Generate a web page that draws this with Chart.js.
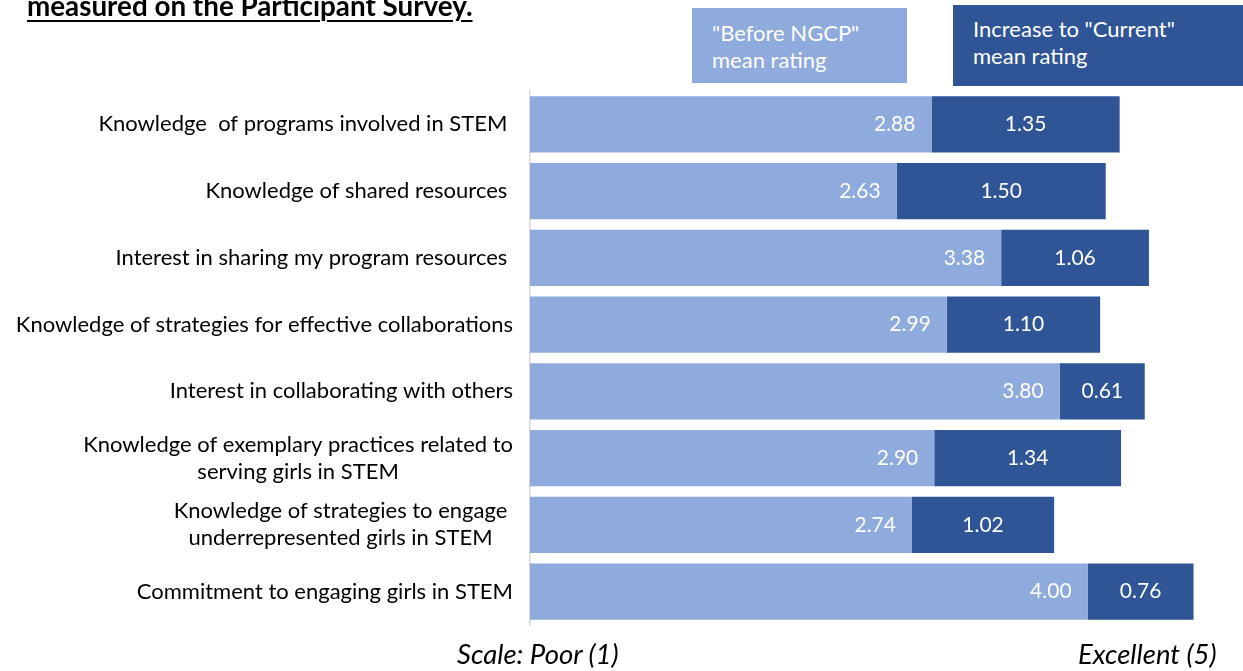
<!DOCTYPE html>
<html>
<head>
<meta charset="utf-8">
<script src="https://cdn.jsdelivr.net/npm/chart.js@4.4.1/dist/chart.umd.min.js"></script>
<style>
  html, body { margin: 0; padding: 0; background: #fff; }
  #wrap { position: relative; width: 1243px; height: 671px; overflow: hidden; font-family: Lato, "Open Sans", sans-serif; }
  canvas { position: absolute; left: 0; top: 0; }
  .title { position: absolute; left: 27px; top: -8px; font-weight: bold; font-size: 27.8px; line-height: 27.8px; color: #000; text-decoration: underline; text-decoration-thickness: 2px; text-underline-offset: 4px; white-space: nowrap; }
  .leg { position: absolute; color: #fff; font-size: 22px; line-height: 27px; box-sizing: border-box; white-space: nowrap; }
  .leg1 { left: 692px; top: 8px; width: 215px; height: 75px; background: #8FAADC; padding: 11px 0 0 20px; }
  .leg2 { left: 953px; top: 5px; width: 290px; height: 81px; background: #2F5597; padding: 10px 0 0 20px; }
  .scale { position: absolute; top: 640px; font-style: italic; font-size: 27.5px; line-height: 27.5px; color: #000; white-space: nowrap; }
</style>
</head>
<body>
<div id="wrap">
  <canvas id="c" width="1243" height="671"></canvas>
  <div class="title">measured on the Participant Survey.</div>
  <div class="leg leg1">"Before NGCP"<br>mean rating</div>
  <div class="leg leg2">Increase to "Current"<br>mean rating</div>
  <div class="scale" style="left:457px">Scale: Poor (1)</div>
  <div class="scale" style="left:1078px">Excellent (5)</div>
</div>
<script>
const categories = [
  ["Knowledge  of programs involved in STEM "],
  ["Knowledge of shared resources "],
  ["Interest in sharing my program resources "],
  ["Knowledge of strategies for effective collaborations"],
  ["Interest in collaborating with others"],
  ["Knowledge of exemplary practices related to", "serving girls in STEM"],
  ["Knowledge of strategies to engage ", "underrepresented girls in STEM "],
  ["Commitment to engaging girls in STEM"]
];
const beforeRating = [2.88, 2.63, 3.38, 2.99, 3.80, 2.90, 2.74, 4.00];
const increaseRating = [1.35, 1.50, 1.06, 1.10, 0.61, 1.34, 1.02, 0.76];

const LIGHT = '#8FAADC';
const DARK = '#2F5597';

const labelPlugin = {
  id: 'customLabels',
  afterDraw(chart) {
    const ctx = chart.ctx;
    const yScale = chart.scales.y;
    ctx.save();
    // category labels
    ctx.font = '22px Lato';
    ctx.fillStyle = '#000';
    ctx.textBaseline = 'middle';
    ctx.textAlign = 'center';
    const rightEdge = 513;
    const lh = 27;
    categories.forEach((lines, i) => {
      const y = yScale.getPixelForValue(i);
      const w = Math.max(...lines.map(l => ctx.measureText(l).width));
      const cx = rightEdge - w / 2;
      const y0 = y - (lines.length - 1) * lh / 2;
      lines.forEach((l, k) => ctx.fillText(l, cx, y0 + k * lh));
    });
    // value labels
    ctx.font = '21px Lato';
    ctx.fillStyle = '#fff';
    const m0 = chart.getDatasetMeta(0);
    const m1 = chart.getDatasetMeta(1);
    m0.data.forEach((bar, i) => {
      ctx.textAlign = 'right';
      ctx.fillText(beforeRating[i].toFixed(2), bar.x - 16, bar.y);
    });
    m1.data.forEach((bar, i) => {
      ctx.textAlign = 'center';
      ctx.fillText(increaseRating[i].toFixed(2), (bar.x + bar.base) / 2, bar.y);
    });
    ctx.restore();
  }
};

new Chart(document.getElementById('c'), {
  type: 'bar',
  data: {
    labels: categories.map(c => c.join(' ')),
    datasets: [
      { label: '"Before NGCP" mean rating', data: beforeRating, backgroundColor: LIGHT, borderWidth: 0 },
      { label: 'Increase to "Current" mean rating', data: increaseRating, backgroundColor: DARK, borderWidth: 0 }
    ]
  },
  options: {
    indexAxis: 'y',
    responsive: false,
    animation: false,
    layout: { padding: { left: 530, right: 16, top: 91, bottom: 46 } },
    datasets: { bar: { categoryPercentage: 0.84, barPercentage: 1.0 } },
    scales: {
      x: { stacked: true, min: 0, max: 5, display: false },
      y: {
        stacked: true,
        ticks: { display: false },
        grid: { display: false, drawTicks: false },
        border: { display: true, color: '#D9D9D9', width: 1.5 }
      }
    },
    plugins: { legend: { display: false }, tooltip: { enabled: false } }
  },
  plugins: [labelPlugin]
});
</script>
</body>
</html>
